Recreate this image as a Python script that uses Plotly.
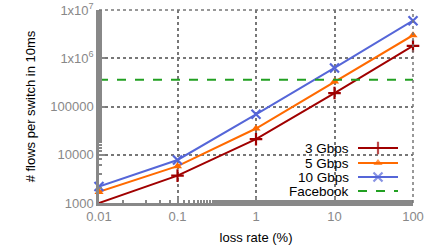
import plotly.graph_objects as go

loss = [0.01, 0.1, 1, 10, 100]
g3 = [1000, 3700, 21000, 190000, 1800000]
g5 = [1700, 5800, 35000, 330000, 3000000]
g10 = [2200, 7800, 69000, 630000, 6000000]
facebook = 360000
names = ["3 Gbps", "5 Gbps", "10 Gbps", "Facebook"]
xticks = [0.01, 0.1, 1, 10, 100]
xtick_text = ["0.01", "0.1", "1", "10", "100"]
yticks = [1000, 10000, 100000, 1e6, 1e7]
ytick_text = ["1000", "10000", "100000", "1x10<sup>6</sup>", "1x10<sup>7</sup>"]

colors = ["#a00000", "#ff6a00", "#5566d8", "#22a022"]
symbols = ["cross-thin", "triangle-up", "x-thin", None]

W, H = 425, 251
L, R, T, B = 99, 12, 10, 48
PW, PH = W - L - R, H - T - B

fig = go.Figure()
series = [g3, g5, g10]
for i, s in enumerate(series):
    sym = symbols[i]
    thin = sym.endswith("thin")
    fig.add_trace(go.Scatter(
        x=loss, y=s, mode="lines+markers", name=names[i],
        line=dict(color=colors[i], width=2),
        marker=dict(symbol=sym, size=9 if thin else 8, color=colors[i],
                    line=dict(color=colors[i], width=2.2 if thin else 0)),
        showlegend=False, cliponaxis=False))
fig.add_trace(go.Scatter(
    x=[loss[0], loss[-1]], y=[facebook, facebook], mode="lines", name=names[3],
    line=dict(color=colors[3], width=2, dash="dash"), showlegend=False))

# custom legend (text right, key on right) on hidden overlay axes
leg_y = [148, 163, 177, 191]
for i, nm in enumerate(names):
    ly = (H - leg_y[i] - B) / PH
    fig.add_annotation(text=nm, xref="paper", yref="paper",
                       x=(351 - L) / PW, y=ly,
                       xanchor="right", yanchor="middle", showarrow=False,
                       font=dict(size=13.5, color="black", family="Liberation Sans"))
    x0 = (358 - L) / PW
    x1 = (398 - L) / PW
    xm = (378 - L) / PW
    if i < 3:
        thin = symbols[i].endswith("thin")
        fig.add_trace(go.Scatter(
            x=[x0, xm, x1], y=[ly, ly, ly], xaxis="x2", yaxis="y2",
            mode="lines+markers", line=dict(color=colors[i], width=2),
            marker=dict(symbol=symbols[i], size=[0, 9 if thin else 8, 0], color=colors[i],
                        line=dict(color=colors[i], width=2.2 if thin else 0)),
            showlegend=False, hoverinfo="skip"))
    else:
        fig.add_trace(go.Scatter(
            x=[x0, x1], y=[ly, ly], xaxis="x2", yaxis="y2", mode="lines",
            line=dict(color=colors[i], width=2, dash="dash"),
            showlegend=False, hoverinfo="skip"))

axis_common = dict(
    showgrid=True, gridcolor="#777777", griddash="dot", gridwidth=1.5,
    showline=True, linecolor="#888888", linewidth=2.5,
    ticks="inside", ticklen=6, tickwidth=2, tickcolor="#888888",
    tickfont=dict(size=13, color="#888888", family="Liberation Sans"),
    zeroline=False, automargin=False,
)
fig.update_layout(
    width=W, height=H,
    margin=dict(l=L, r=R, t=T, b=B, autoexpand=False),
    plot_bgcolor="white", paper_bgcolor="white",
    xaxis=dict(type="log", range=[-2, 2], tickvals=xticks, ticktext=xtick_text,
               minor=dict(ticks="inside", ticklen=3, tickwidth=1.5, tickcolor="#888888", showgrid=False),
               title=dict(text="loss rate (%)", font=dict(size=13, color="black", family="Liberation Sans"), standoff=10),
               **axis_common),
    yaxis=dict(type="log", range=[3, 7], tickvals=yticks, ticktext=ytick_text,
               minor=dict(ticks="inside", ticklen=3, tickwidth=1.5, tickcolor="#888888", showgrid=False),
               title=dict(text="# flows per switch in 10ms", font=dict(size=13, color="black", family="Liberation Sans"), standoff=12),
               **axis_common),
    xaxis2=dict(overlaying="x", range=[0, 1], visible=False),
    yaxis2=dict(overlaying="y", range=[0, 1], visible=False),
    showlegend=False,
)
fig.add_shape(type="line", xref="paper", yref="paper", x0=0, x1=1, y0=1, y1=1,
              line=dict(color="#777777", width=1.5, dash="dot"))
fig.add_shape(type="line", xref="paper", yref="paper", x0=1, x1=1, y0=0, y1=1,
              line=dict(color="#777777", width=1.5, dash="dot"))
fig.write_html("out.html", config={"displayModeBar": False},
               post_script="document.body.style.margin='0';document.body.style.overflow='hidden';")
